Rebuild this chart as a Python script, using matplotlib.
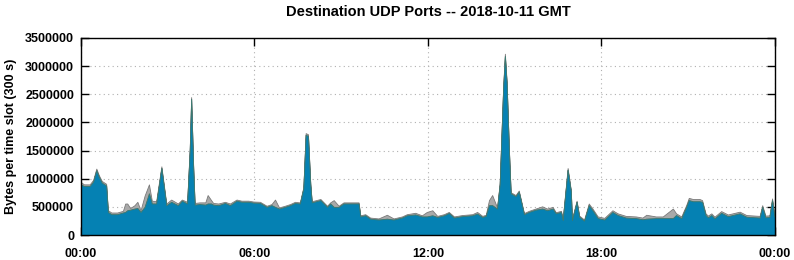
import matplotlib
matplotlib.use("Agg")
import matplotlib.pyplot as plt

# data: time of day (hours) and stacked bytes per 300 s slot
hours = [0.00, 0.10, 0.30, 0.42, 0.53, 0.62, 0.72, 0.87, 0.93, 1.05, 1.25, 1.45, 1.53, 1.60, 1.70,
         1.85, 1.95, 2.06, 2.20, 2.35, 2.45, 2.60, 2.78, 2.95, 3.12, 3.35, 3.49, 3.67, 3.76, 3.81,
         3.88, 3.93, 4.10, 4.30, 4.38, 4.50, 4.57, 4.75, 4.98, 5.15, 5.38, 5.55, 5.79, 5.96, 6.19,
         6.42, 6.59, 6.71, 6.85, 7.05, 7.23, 7.40, 7.57, 7.69, 7.77, 7.85, 7.93, 7.98, 8.28, 8.51,
         8.62, 8.74, 8.91, 9.08, 9.60, 9.66, 9.83, 10.00, 10.29, 10.58, 10.81, 11.10, 11.27, 11.56,
         11.79, 11.96, 12.15, 12.32, 12.55, 12.72, 12.90, 13.18, 13.53, 13.70, 13.88, 14.00, 14.11,
         14.22, 14.39, 14.48, 14.60, 14.66, 14.72, 14.80, 14.86, 15.03, 15.14, 15.32, 15.49, 15.72,
         15.95, 16.12, 16.31, 16.42, 16.60, 16.66, 16.83, 16.94, 16.98, 17.14, 17.23, 17.40, 17.56,
         17.69, 17.87, 18.10, 18.38, 18.56, 18.84, 19.19, 19.42, 19.55, 19.88, 20.12, 20.47, 20.58,
         20.76, 20.93, 21.02, 21.16, 21.39, 21.48, 21.60, 21.68, 21.80, 21.91, 22.14, 22.37, 22.78,
         23.01, 23.47, 23.56, 23.67, 23.81, 23.90, 23.98, 24.00]

# main port (blue), in thousands of bytes
main_k = [900, 870, 870, 950, 1150, 1030, 930, 880, 410, 370, 370, 400, 410, 440, 450,
          470, 480, 410, 500, 740, 560, 560, 1190, 530, 590, 530, 610, 560, 1500, 2420,
          1200, 540, 550, 540, 560, 560, 540, 530, 570, 530, 610, 590, 590, 575, 570,
          500, 530, 500, 470, 500, 530, 570, 560, 830, 1780, 1760, 900, 580, 620, 500,
          560, 500, 500, 560, 560, 330, 350, 290, 275, 290, 275, 310, 350, 365,
          330, 330, 350, 320, 350, 390, 310, 335, 350, 380, 320, 340, 530,
          530, 470, 900, 2600, 3180, 2700, 1500, 740, 690, 770, 370, 410, 450,
          470, 440, 470, 385, 410, 265, 1160, 780, 265, 590, 325, 255, 530,
          440, 300, 275, 410, 355, 310, 300, 280, 290, 300, 300, 300, 355,
          300, 500, 620, 600, 600, 590, 355, 315, 355, 296, 395, 335, 385,
          325, 310, 500, 315, 320, 620, 330, 330]

# other ports (gray), in thousands of bytes
other_k = [40, 30, 30, 30, 30, 30, 30, 30, 30, 30, 30, 30, 150, 120, 30,
           60, 110, 30, 200, 160, 50, 40, 30, 30, 40, 30, 20, 30, 30, 30,
           30, 30, 30, 40, 150, 60, 30, 30, 20, 30, 20, 20, 20, 20, 20,
           20, 20, 130, 20, 20, 20, 20, 20, 20, 30, 30, 20, 20, 20, 20,
           20, 120, 20, 20, 20, 20, 20, 20, 20, 70, 20, 20, 20, 30,
           20, 80, 90, 20, 20, 20, 20, 20, 20, 30, 20, 20, 90,
           180, 20, 20, 30, 40, 30, 20, 20, 20, 20, 20, 20, 20,
           40, 30, 30, 20, 20, 20, 30, 20, 20, 20, 20, 20, 30,
           30, 30, 30, 30, 30, 30, 30, 30, 70, 30, 30, 170, 30,
           30, 30, 40, 40, 40, 30, 30, 30, 30, 30, 30, 30, 30,
           30, 30, 30, 30, 30, 30, 30, 30]

main = [v * 1000 for v in main_k]
other = [v * 1000 for v in other_k]
total = [a + b for a, b in zip(main, other)]

xtick_pos = [0, 6, 12, 18, 24]
xtick_labels = ["00:00", "06:00", "12:00", "18:00", "00:00"]
yticks = [0, 500000, 1000000, 1500000, 2000000, 2500000, 3000000, 3500000]

plt.rcParams['font.family'] = 'Liberation Sans'
plt.rcParams['font.weight'] = 'bold'

fig = plt.figure(figsize=(7.94, 2.6), dpi=100)
ax = fig.add_axes([0.102, 0.096, 0.874, 0.758])

ax.fill_between(hours, main, total, color="#a9a9a9", edgecolor="#7a7a7a", linewidth=0.6, zorder=2)
ax.fill_between(hours, 0, main, color="#0581b3", edgecolor="#3a7a70", linewidth=0.6, zorder=3)

ax.set_xlim(0, 24)
ax.set_ylim(0, 3500000)
ax.set_xticks(xtick_pos)
ax.set_xticklabels(xtick_labels, fontsize=9, fontweight="bold")
ax.set_yticks(yticks)
ax.set_yticklabels([str(v) for v in yticks], fontsize=9, fontweight="bold")
ax.tick_params(direction="in", length=6, width=1, top=True, right=True)
ax.tick_params(axis="y", pad=5)
ax.tick_params(axis="x", pad=9)

ax.grid(True, color="#b0b0b0", linestyle=(0, (1, 3)), linewidth=0.8, zorder=1)
ax.set_axisbelow(True)
for s in ax.spines.values():
    s.set_linewidth(1.0)
    s.set_zorder(5)

ax.set_ylabel("Bytes per time slot (300 s)", fontsize=9, fontweight="bold", labelpad=6)
ax.set_title("Destination UDP Ports -- 2018-10-11 GMT", fontsize=10.5, fontweight="bold", pad=16)

fig.savefig("out.png", dpi=100)
